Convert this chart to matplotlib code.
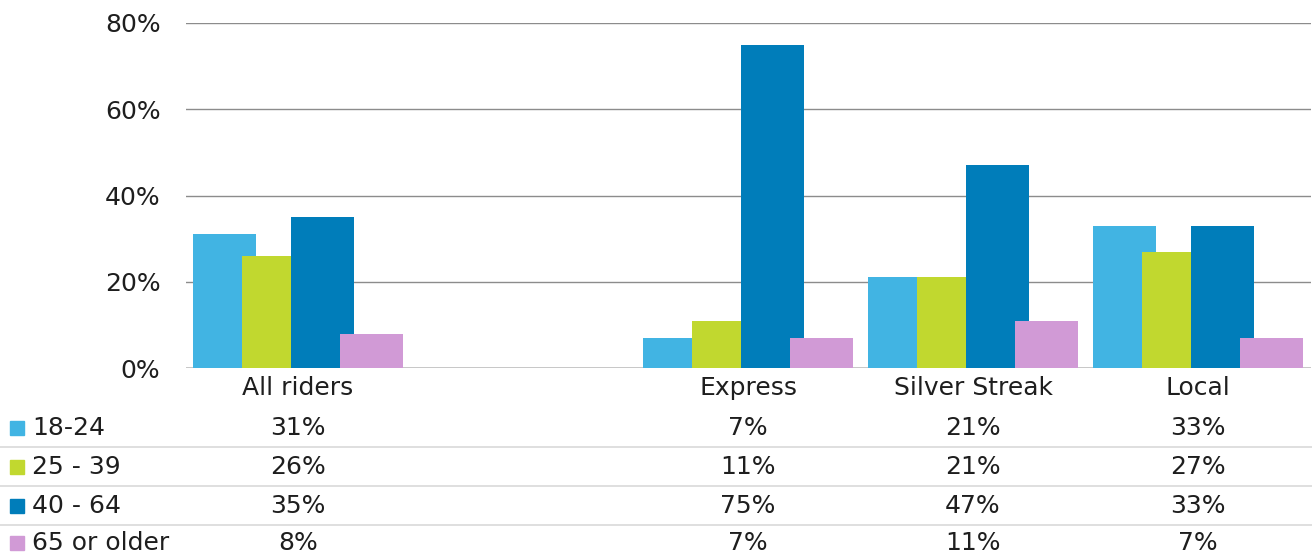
import matplotlib.pyplot as plt
import matplotlib.transforms as mtransforms
import numpy as np

categories = ['All riders', '', 'Express', 'Silver Streak', 'Local']
series_names = ['18-24', '25 - 39', '40 - 64', '65 or older']
values = {
    '18-24':       [31, None, 7, 21, 33],
    '25 - 39':     [26, None, 11, 21, 27],
    '40 - 64':     [35, None, 75, 47, 33],
    '65 or older': [8, None, 7, 11, 7],
}
colors = ['#41B4E3', '#C1D82F', '#007DBA', '#D19AD6']
yticks = [0, 20, 40, 60, 80]

plt.rcParams['font.family'] = ['DejaVu Sans']
fs = 18
tc = '#1e1e1e'

W, H = 1312, 554
fig = plt.figure(figsize=(W / 100, H / 100), dpi=100)
ax = fig.add_axes([185.5 / W, (H - 368) / H, 1125 / W, 345 / H])

x = np.arange(len(categories))
step = 0.218
width = 0.28
for i, name in enumerate(series_names):
    vals = np.array([np.nan if v is None else v for v in values[name]], dtype=float)
    ax.bar(x + (i - 1.5) * step, vals, width, color=colors[i], zorder=2 + i,
           edgecolor='none')

ax.set_xlim(-0.5, len(categories) - 0.5)
ax.set_ylim(0, 80)
ax.set_yticks(yticks)
ax.set_yticklabels(['%d%%' % t for t in yticks], fontsize=fs, color=tc)
ax.tick_params(axis='y', length=0, pad=18)
ax.set_xticks([])
ax.grid(axis='y', color='#8c8c8c', linewidth=1, zorder=0)
for s in ax.spines.values():
    s.set_visible(False)
ax.axhline(0, color='#d0d0d0', linewidth=1.2, zorder=1)

# data table below
trans = mtransforms.blended_transform_factory(ax.transData, fig.transFigure)
def fy(py):
    return (H - py) / H

for j, c in enumerate(categories):
    fig.text(x[j], fy(388), c, transform=trans, ha='center', va='center',
             fontsize=fs, color=tc)

row_y = [428, 467, 506, 543]
for i, name in enumerate(series_names):
    fig.patches.append(plt.Rectangle((10 / W, fy(row_y[i] + 7)), 14 / W, 14 / H,
                                     transform=fig.transFigure, color=colors[i],
                                     figure=fig))
    fig.text(32 / W, fy(row_y[i]), name, ha='left', va='center', fontsize=fs,
             color=tc)
    for j, v in enumerate(values[name]):
        if v is None:
            continue
        fig.text(x[j], fy(row_y[i]), '%d%%' % v, transform=trans, ha='center',
                 va='center', fontsize=fs, color=tc)

for ly in [447, 486, 525]:
    fig.add_artist(plt.Line2D([0, 1], [fy(ly), fy(ly)], transform=fig.transFigure,
                              color='#d9d9d9', linewidth=1.2))

fig.savefig('out.png', dpi=100)
